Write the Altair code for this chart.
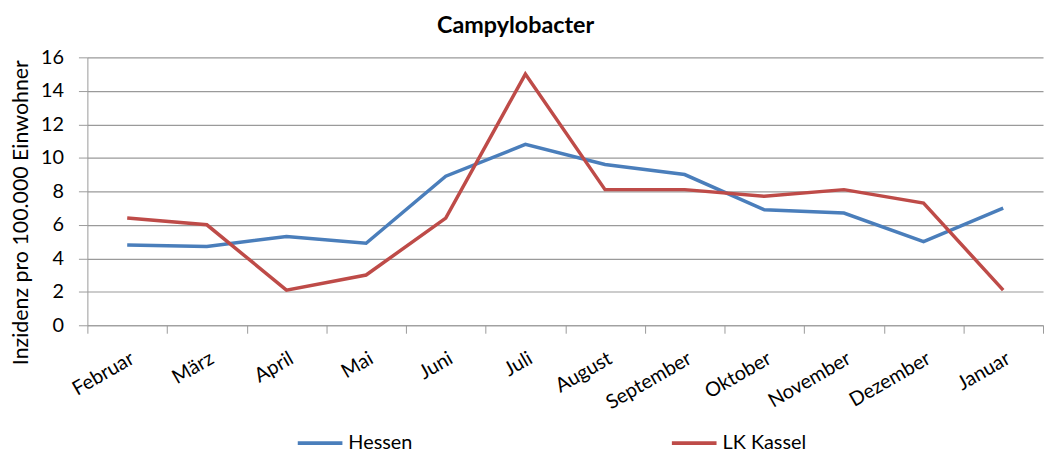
import altair as alt
import pandas as pd

months = ["Februar", "März", "April", "Mai", "Juni", "Juli", "August",
          "September", "Oktober", "November", "Dezember", "Januar"]
hessen = [4.8, 4.7, 5.3, 4.9, 8.9, 10.8, 9.6, 9.0, 6.9, 6.7, 5.0, 7.0]
kassel = [6.4, 6.0, 2.1, 3.0, 6.4, 15.0, 8.1, 8.1, 7.7, 8.1, 7.3, 2.1]
series = ["Hessen", "LK Kassel"]
colors = ["#4a7ebb", "#be4b48"]

rows = []
for name, vals in zip(series, [hessen, kassel]):
    for m, v in zip(months, vals):
        rows.append({"Monat": m, "Wert": v, "Reihe": name})
df = pd.DataFrame(rows)

FONT = "Lato"
GRAY = "#9a9a9a"

chart = alt.Chart(df).mark_line(strokeWidth=3.5).encode(
    x=alt.X("Monat:N", sort=months, bandPosition=0.5,
            scale=alt.Scale(type="band", paddingInner=0, paddingOuter=0),
            axis=alt.Axis(title=None, labelAngle=-30, labelFontSize=20,
                          labelFont=FONT, labelColor="#000000",
                          tickBand="extent", tickSize=8, tickColor=GRAY,
                          domainColor=GRAY, labelPadding=15, grid=False)),
    y=alt.Y("Wert:Q", scale=alt.Scale(domain=[0, 16]),
            axis=alt.Axis(title="Inzidenz pro 100.000 Einwohner",
                          values=list(range(0, 17, 2)), tickSize=9,
                          tickColor=GRAY, domainColor=GRAY, gridColor=GRAY,
                          gridWidth=1.2, labelFontSize=20, labelFont=FONT,
                          labelColor="#000000", labelPadding=15,
                          titleFont=FONT, titleFontSize=21.5,
                          titleFontWeight="normal", titleColor="#000000",
                          titleX=-66, titleY=156, titleBaseline="middle",
                          titleAlign="center", titleAngle=270)),
    color=alt.Color("Reihe:N", scale=alt.Scale(domain=series, range=colors),
                    legend=alt.Legend(title=None, orient="none",
                                      legendX=210, legendY=364,
                                      direction="horizontal", columns=2,
                                      columnPadding=253,
                                      symbolType="stroke", symbolSize=2025,
                                      symbolStrokeWidth=4,
                                      labelFontSize=20, labelFont=FONT,
                                      labelColor="#000000", labelOffset=4)),
).properties(
    width=963, height=270,
    title=alt.Title("Campylobacter", font=FONT, fontSize=23.5,
                    fontWeight="bold", color="#000000", anchor="middle",
                    frame="group", dx=-50, offset=10),
    autosize=alt.AutoSizeParams(type="none"),
    padding={"left": 80, "top": 48, "right": 2, "bottom": 128},
).configure_view(stroke=None)

chart.save("out.html", embed_options={"renderer": "svg", "actions": False})
